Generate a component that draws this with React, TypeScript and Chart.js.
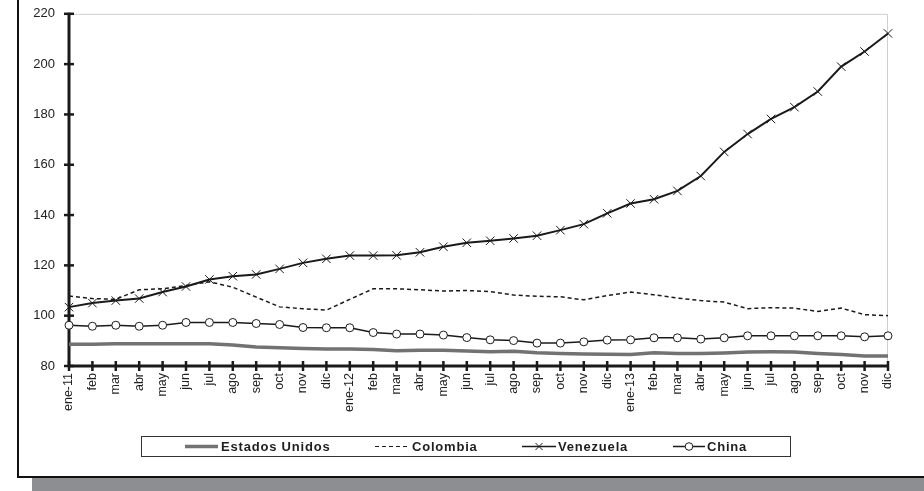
import React, { useEffect, useRef } from "react";
import { Chart, registerables } from "chart.js";

Chart.register(...registerables);

const labels = [
  "ene-11", "feb", "mar", "abr", "may", "jun", "jul", "ago", "sep", "oct", "nov", "dic",
  "ene-12", "feb", "mar", "abr", "may", "jun", "jul", "ago", "sep", "oct", "nov", "dic",
  "ene-13", "feb", "mar", "abr", "may", "jun", "jul", "ago", "sep", "oct", "nov", "dic",
];

const estadosUnidos = [
  88.6, 88.6, 88.8, 88.8, 88.8, 88.8, 88.8, 88.3, 87.6, 87.3, 87.0, 86.8,
  86.8, 86.6, 86.1, 86.3, 86.3, 86.0, 85.7, 85.9, 85.3, 85.0, 84.8, 84.7,
  84.6, 85.3, 85.0, 85.0, 85.2, 85.6, 85.7, 85.6, 85.0, 84.6, 84.0, 84.0,
];

const colombia = [
  107.8, 106.8, 106.5, 110.3, 110.7, 112.0, 113.5, 111.3, 107.4, 103.5, 102.8, 102.2,
  106.5, 110.7, 110.7, 110.3, 109.8, 110.0, 109.6, 108.2, 107.7, 107.5, 106.3, 108.0,
  109.4, 108.3, 107.0, 106.0, 105.4, 102.8, 103.2, 103.0, 101.7, 103.0, 100.4, 100.0,
];

const venezuela = [
  103.4, 105.0, 106.0, 106.8, 109.4, 111.6, 114.4, 115.7, 116.4, 118.6, 121.0, 122.6,
  123.9, 123.9, 124.0, 125.2, 127.4, 129.0, 129.8, 130.7, 131.8, 134.0, 136.4, 140.7,
  144.6, 146.3, 149.6, 155.5, 165.1, 172.2, 178.2, 182.9, 189.1, 199.0, 205.0, 212.2,
];

const china = [
  96.2, 95.8, 96.2, 95.8, 96.2, 97.3, 97.3, 97.3, 96.9, 96.5, 95.3, 95.2,
  95.2, 93.3, 92.7, 92.7, 92.3, 91.3, 90.4, 90.1, 89.1, 89.1, 89.6, 90.3,
  90.4, 91.2, 91.2, 90.7, 91.2, 92.0, 92.0, 92.0, 92.0, 92.0, 91.6, 92.0,
];

const seriesNames = ["Estados Unidos", "Colombia", "Venezuela", "China"];

const FONT = "'Liberation Sans', Arial, sans-serif";
const CANVAS_TOP = -8;

const axesPlugin = {
  id: "customAxes",
  beforeDatasetsDraw(chart: any) {
    const ctx = chart.ctx;
    const { left, right, top, bottom } = chart.chartArea;
    const xs = chart.scales.x;
    const ys = chart.scales.y;
    ctx.save();
    ctx.strokeStyle = "#cfcfcf";
    ctx.lineWidth = 1;
    ctx.beginPath();
    ctx.moveTo(left, top + 0.5);
    ctx.lineTo(right - 0.5, top + 0.5);
    ctx.lineTo(right - 0.5, bottom);
    ctx.stroke();
    ctx.strokeStyle = "#1a1a1a";
    ctx.lineWidth = 3;
    ctx.beginPath();
    ctx.moveTo(left, top - 1);
    ctx.lineTo(left, bottom + 1);
    ctx.stroke();
    ctx.lineWidth = 2.5;
    ys.ticks.forEach((t: any) => {
      const y = ys.getPixelForValue(t.value);
      ctx.beginPath();
      ctx.moveTo(left - 5, y);
      ctx.lineTo(left + 5, y);
      ctx.stroke();
    });
    ctx.lineWidth = 3;
    ctx.beginPath();
    ctx.moveTo(left, bottom);
    ctx.lineTo(right + 1, bottom);
    ctx.stroke();
    ctx.lineWidth = 2.5;
    labels.forEach((_, i) => {
      const x = xs.getPixelForValue(i);
      ctx.beginPath();
      ctx.moveTo(x, bottom - 5);
      ctx.lineTo(x, bottom + 5);
      ctx.stroke();
    });
    ctx.restore();
  },
};

const legendPlugin = {
  id: "customLegend",
  afterDraw(chart: any) {
    const ctx = chart.ctx;
    const off = -CANVAS_TOP;
    ctx.save();
    ctx.strokeStyle = "#333";
    ctx.lineWidth = 1;
    ctx.strokeRect(141.5, 436.5 + off, 649, 20);
    const y = 446.5 + off;
    const items = [
      { x0: 185, x1: 218, tx: 221 },
      { x0: 375, x1: 410, tx: 412 },
      { x0: 522, x1: 556, tx: 558 },
      { x0: 673, x1: 705, tx: 707 },
    ];
    chart.data.datasets.forEach((ds: any, i: number) => {
      const it = items[i];
      ctx.strokeStyle = ds.borderColor;
      ctx.lineWidth = i === 0 ? 3.5 : i === 1 ? 1.2 : 1.5;
      ctx.setLineDash(ds.borderDash || []);
      ctx.beginPath();
      ctx.moveTo(it.x0, y);
      ctx.lineTo(it.x1, y);
      ctx.stroke();
      ctx.setLineDash([]);
      const cx = (it.x0 + it.x1) / 2;
      if (ds.pointStyle === "crossRot") {
        ctx.lineWidth = 1;
        ctx.beginPath();
        ctx.moveTo(cx - 3.5, y - 3.5);
        ctx.lineTo(cx + 3.5, y + 3.5);
        ctx.moveTo(cx - 3.5, y + 3.5);
        ctx.lineTo(cx + 3.5, y - 3.5);
        ctx.stroke();
      } else if (ds.pointStyle === "circle" && ds.pointRadius > 0) {
        ctx.lineWidth = 1;
        ctx.fillStyle = "#fff";
        ctx.beginPath();
        ctx.arc(cx, y, 3.8, 0, Math.PI * 2);
        ctx.fill();
        ctx.stroke();
      }
      ctx.fillStyle = "#1e1e1e";
      ctx.font = `bold 13px ${FONT}`;
      (ctx as any).letterSpacing = "0.8px";
      ctx.textBaseline = "middle";
      ctx.textAlign = "left";
      ctx.fillText(ds.label, it.tx, y + 0.5);
      (ctx as any).letterSpacing = "0px";
    });
    ctx.restore();
  },
};

export default function App() {
  const canvasRef = useRef<HTMLCanvasElement | null>(null);

  useEffect(() => {
    if (!canvasRef.current) return;
    const chart = new Chart(canvasRef.current, {
      type: "line",
      data: {
        labels,
        datasets: [
          {
            label: seriesNames[0],
            data: estadosUnidos,
            borderColor: "#727272",
            borderWidth: 3.5,
            pointRadius: 0,
            pointStyle: "circle",
            tension: 0,
            clip: false,
          },
          {
            label: seriesNames[1],
            data: colombia,
            borderColor: "#1a1a1a",
            borderWidth: 1.5,
            borderDash: [4, 3],
            pointRadius: 0,
            pointStyle: "circle",
            tension: 0,
            clip: false,
          },
          {
            label: seriesNames[2],
            data: venezuela,
            borderColor: "#1a1a1a",
            borderWidth: 2,
            pointStyle: "crossRot",
            pointRadius: 6,
            pointBorderWidth: 1,
            pointBorderColor: "#1a1a1a",
            tension: 0,
            clip: false,
          },
          {
            label: seriesNames[3],
            data: china,
            borderColor: "#1a1a1a",
            borderWidth: 1.5,
            pointStyle: "circle",
            pointRadius: 4,
            pointBorderWidth: 1,
            pointBorderColor: "#1a1a1a",
            pointBackgroundColor: "#ffffff",
            tension: 0,
            clip: false,
          },
        ],
      },
      options: {
        responsive: false,
        animation: false,
        events: [],
        layout: { padding: { left: 0, right: 36, top: 4, bottom: 0 } },
        plugins: {
          legend: { display: false },
          tooltip: { enabled: false },
          title: { display: false },
        },
        scales: {
          x: {
            type: "category",
            offset: false,
            grid: { display: false, drawTicks: false },
            border: { display: false },
            ticks: {
              autoSkip: false,
              maxRotation: 90,
              minRotation: 90,
              padding: 7,
              color: "#222",
              font: { family: FONT, size: 12.5 },
            },
            afterFit(scale: any) {
              scale.height = 125;
            },
          },
          y: {
            min: 80,
            max: 220,
            grid: { display: false, drawTicks: false },
            border: { display: false },
            ticks: {
              stepSize: 20,
              padding: 14,
              color: "#222",
              font: { family: FONT, size: 13 },
            },
            afterFit(scale: any) {
              scale.width = 69;
            },
          },
        },
      },
      plugins: [axesPlugin, legendPlugin],
    } as any);
    return () => chart.destroy();
  }, []);

  return (
    <div
      style={{
        position: "fixed",
        left: 0,
        top: 0,
        width: 924,
        height: 491,
        background: "#fff",
        overflow: "hidden",
      }}
    >
      <div
        style={{
          position: "absolute",
          left: 32,
          top: 478,
          width: 900,
          height: 20,
          background: "#8d8e92",
        }}
      />
      <div
        style={{
          position: "absolute",
          left: 17,
          top: -10,
          width: 1000,
          height: 488,
          boxSizing: "border-box",
          border: "2px solid #111",
          background: "#fff",
        }}
      />
      <canvas
        ref={canvasRef}
        width={924}
        height={491 - CANVAS_TOP}
        style={{
          position: "absolute",
          left: 0,
          top: CANVAS_TOP,
          width: 924,
          height: 491 - CANVAS_TOP,
        }}
      />
    </div>
  );
}
